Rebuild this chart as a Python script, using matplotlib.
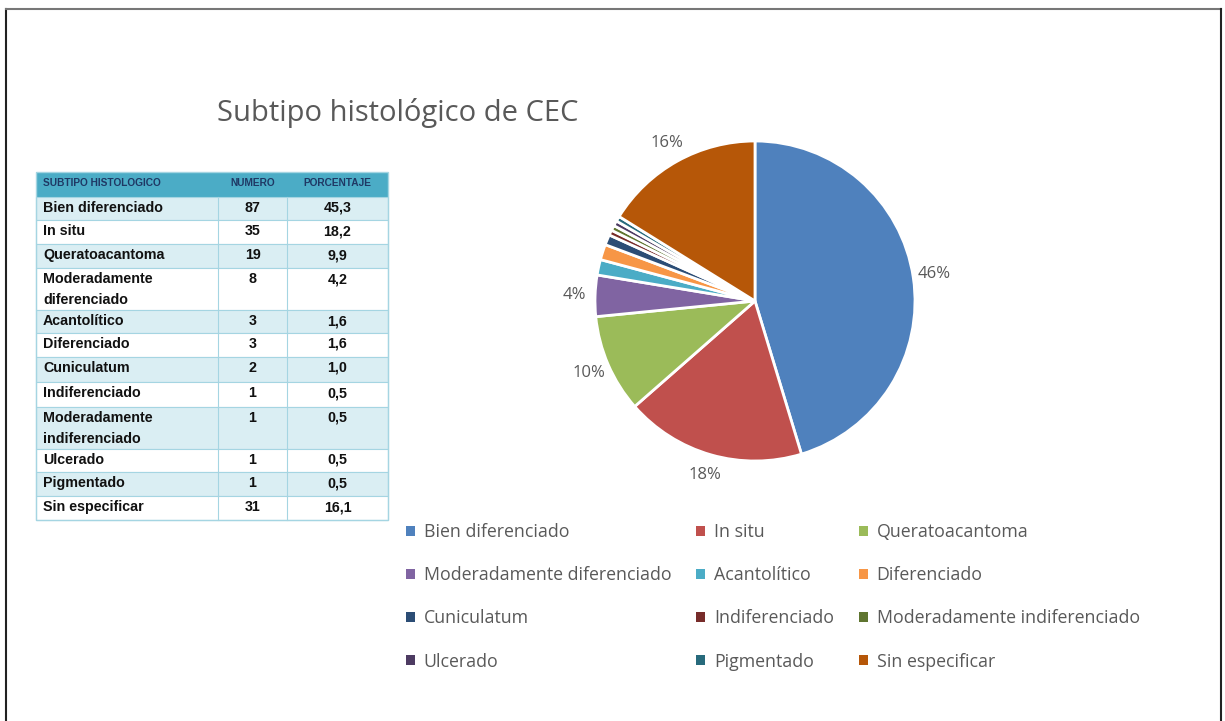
import numpy as np
import matplotlib.pyplot as plt
from matplotlib.patches import Rectangle
from matplotlib.lines import Line2D

# data
subtipos = ["Bien diferenciado", "In situ", "Queratoacantoma",
            "Moderadamente diferenciado", "Acantolítico", "Diferenciado",
            "Cuniculatum", "Indiferenciado", "Moderadamente indiferenciado",
            "Ulcerado", "Pigmentado", "Sin especificar"]
numero = [87, 35, 19, 8, 3, 3, 2, 1, 1, 1, 1, 31]
porcentaje = ["45,3", "18,2", "9,9", "4,2", "1,6", "1,6", "1,0", "0,5", "0,5", "0,5", "0,5", "16,1"]
pie_labels = ["46%", "18%", "10%", "4%", "", "", "", "", "", "", "", "16%"]
table_names = ["Bien diferenciado", "In situ", "Queratoacantoma",
               "Moderadamente\ndiferenciado", "Acantolítico", "Diferenciado",
               "Cuniculatum", "Indiferenciado", "Moderadamente\nindiferenciado",
               "Ulcerado", "Pigmentado", "Sin especificar"]
header = ["SUBTIPO HISTOLOGICO", "NUMERO", "PORCENTAJE"]

colores = ["#4F81BD", "#C0504D", "#9BBB59", "#8064A2", "#4BACC6", "#F79646",
           "#2C4D75", "#772C2A", "#5F7530", "#4D3B62", "#276A7C", "#B65708"]

W, H = 1225, 721
fig = plt.figure(figsize=(W / 100, H / 100), dpi=100)

# background axes in pixel coords (y down)
bg = fig.add_axes([0, 0, 1, 1])
bg.set_xlim(0, W)
bg.set_ylim(H, 0)
bg.axis('off')

# frame around the slide
bg.add_line(Line2D([6, 6], [9, H], color='#222222', lw=1.5))
bg.add_line(Line2D([6, 1221], [9, 9], color='#777777', lw=1.5))
bg.add_line(Line2D([1221, 1221], [9, H], color='#222222', lw=1.5))

# title
bg.text(217, 113, "Subtipo histológico de CEC", fontsize=21, color='#595959',
        family='Open Sans', va='center', ha='left')

# table
col_x = [36, 218, 287, 388]
row_y = [172, 197, 220, 244, 268, 310, 333, 357, 382, 407, 449, 472, 496, 520]
tfont = dict(fontsize=10.3, fontweight='bold', family='Liberation Sans', color='#111111')
# header
bg.add_patch(Rectangle((col_x[0], row_y[0]), col_x[3] - col_x[0], row_y[1] - row_y[0],
                       facecolor='#4BACC6', edgecolor='none'))
hx = [col_x[0] + 7, (col_x[1] + col_x[2]) / 2, (col_x[2] + col_x[3]) / 2]
for j, h in enumerate(header):
    bg.text(hx[j], (row_y[0] + row_y[1]) / 2 - 2, h, fontsize=7.3, fontweight='bold',
            color='#1F3864', family='Liberation Sans', va='center',
            ha='left' if j == 0 else 'center')
for i in range(len(table_names)):
    y0, y1 = row_y[i + 1], row_y[i + 2]
    fc = '#DAEEF3' if i % 2 == 0 else 'white'
    bg.add_patch(Rectangle((col_x[0], y0), col_x[3] - col_x[0], y1 - y0,
                           facecolor=fc, edgecolor='#A5D5E2', lw=0.8))
    for c in (col_x[1], col_x[2]):
        bg.add_line(Line2D([c, c], [y0, y1], color='#A5D5E2', lw=0.8))
    bg.text(col_x[0] + 7, y0 + 4, table_names[i], va='top', ha='left',
            linespacing=1.6, **tfont)
    bg.text(hx[1], y0 + 4, str(numero[i]), va='top', ha='center', **tfont)
    bg.text(hx[2], y0 + 4, porcentaje[i], va='top', ha='center', **tfont)
bg.add_patch(Rectangle((col_x[0], row_y[0]), col_x[3] - col_x[0], row_y[-1] - row_y[0],
                       facecolor='none', edgecolor='#A5D5E2', lw=1))

# pie
cx, cy, r, L = 755, 301, 160, 1.6
side = 2 * r * L
ax = fig.add_axes([(cx - side / 2) / W, (H - cy - side / 2) / H, side / W, side / H])
wedges, _ = ax.pie(numero, colors=colores, startangle=90, counterclock=False,
                   wedgeprops=dict(edgecolor='white', linewidth=2))
ax.set_xlim(-L, L)
ax.set_ylim(-L, L)
ax.set_aspect('equal')
ax.axis('off')

for w, lab in zip(wedges, pie_labels):
    if not lab:
        continue
    ang = np.deg2rad((w.theta1 + w.theta2) / 2)
    d = 1.13
    ax.text(d * np.cos(ang), d * np.sin(ang), lab, fontsize=12, color='#595959',
            family='Open Sans', ha='center', va='center')

# legend, filled row by row
orden = [0, 3, 6, 9, 1, 4, 7, 10, 2, 5, 8, 11]
leg = fig.legend([wedges[k] for k in orden], [subtipos[k] for k in orden],
                 ncol=3, loc='upper left', bbox_to_anchor=(390 / W, 1 - 507 / H),
                 frameon=False, handlelength=0.5, handleheight=0.5,
                 handletextpad=0.5, columnspacing=1.4, labelspacing=1.42,
                 prop={'family': 'Open Sans', 'size': 12.8})
for t in leg.get_texts():
    t.set_color('#595959')
for p in leg.get_patches():
    p.set_edgecolor('none')

fig.savefig('out.png', dpi=100)
